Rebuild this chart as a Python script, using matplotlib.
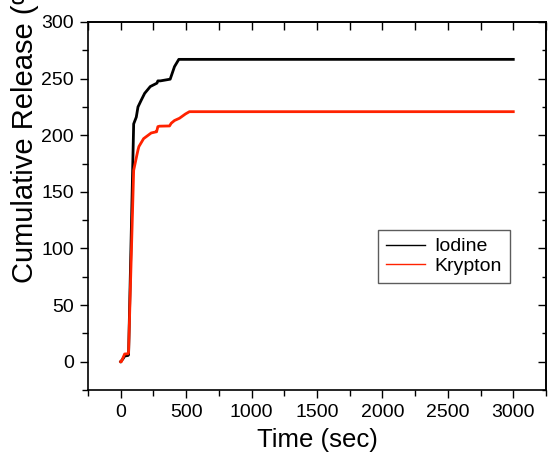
import matplotlib
matplotlib.use("Agg")
import matplotlib.pyplot as plt
from matplotlib.ticker import MultipleLocator

plt.rcParams['font.family'] = ['Liberation Sans', 'DejaVu Sans']

# Data
iodine_t = [0, 20, 30, 56, 60, 99, 119, 132, 157, 183, 226, 277, 284, 303, 378, 411, 444, 3000]
iodine_y = [0, 3, 5, 5.5, 6, 210, 216, 225, 231, 237, 243, 246, 248, 248, 249.5, 260.6, 267, 267]

krypton_t = [0, 5, 30, 56, 60, 99, 119, 132, 139, 175, 233, 271, 274, 284, 297, 373, 386,
             411, 449, 495, 525, 3000]
krypton_y = [0, 0, 6.8, 7, 8, 169, 180, 187, 190, 197, 202, 203, 203, 207.6, 208, 208.2,
             210.6, 213, 215, 218.8, 220.8, 220.8]

x_ticks = [0, 500, 1000, 1500, 2000, 2500, 3000]
y_ticks = [0, 50, 100, 150, 200, 250, 300]

W, H = 549, 462
fig = plt.figure(figsize=(W / 100, H / 100), dpi=100)
ax = fig.add_axes([88 / W, (H - 390) / H, (546 - 88) / W, (390 - 22) / H])

ax.plot(iodine_t, iodine_y, color='black', lw=2.0, label='Iodine')
ax.plot(krypton_t, krypton_y, color='#ff2200', lw=2.0, label='Krypton')

ax.set_xlim(-250, 3250)
ax.set_ylim(-25, 300)
ax.set_xticks(x_ticks)
ax.set_yticks(y_ticks)
ax.xaxis.set_minor_locator(MultipleLocator(250))
ax.yaxis.set_minor_locator(MultipleLocator(25))
ax.tick_params(axis='both', which='major', direction='out', length=6, width=1,
               labelsize=14, pad=4)
ax.tick_params(axis='both', which='minor', direction='out', length=4, width=1)
for s in ax.spines.values():
    s.set_linewidth(1.2)

# top/right inward ticks
top = ax.secondary_xaxis('top')
top.set_xticks(x_ticks)
top.xaxis.set_minor_locator(MultipleLocator(250))
top.tick_params(which='both', direction='in', length=6, width=1, labeltop=False)
top.spines['top'].set_linewidth(1.2)
right = ax.secondary_yaxis('right')
right.set_yticks(y_ticks)
right.yaxis.set_minor_locator(MultipleLocator(25))
right.tick_params(which='major', direction='in', length=6, width=1, labelright=False)
right.tick_params(which='minor', direction='in', length=3, width=1)
right.spines['right'].set_linewidth(1.2)

ax.set_xlabel('Time (sec)', fontsize=18.5, labelpad=5)
fig.text(25 / W, (H - 283) / H, 'Cumulative Release (%)', rotation=90,
         ha='center', va='bottom', fontsize=21)

leg = ax.legend(loc='upper left', bbox_to_anchor=((378 - 88) / 458, (390 - 230) / 368),
                fontsize=14, frameon=True, fancybox=False, handlelength=2.0,
                borderpad=0.4, labelspacing=0.1, handletextpad=0.5, borderaxespad=0)
leg.get_frame().set_edgecolor('#333333')
leg.get_frame().set_linewidth(1.0)
for line in leg.get_lines():
    line.set_linewidth(1.0)

fig.savefig('out.png', dpi=100)
